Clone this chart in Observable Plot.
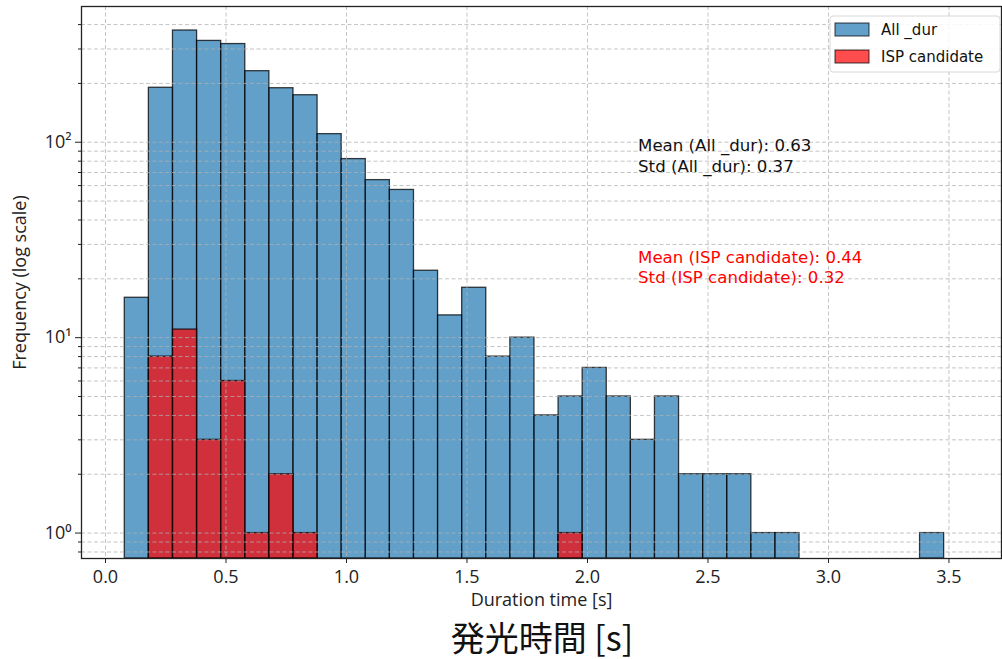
<!DOCTYPE html>
<html><head><meta charset="utf-8">
<script src="https://cdn.jsdelivr.net/npm/d3@7"></script>
<script src="https://cdn.jsdelivr.net/npm/@observablehq/plot@0.6"></script>
<style>
body{margin:0;background:#fff;}
#chart svg{display:block;}
#caption{box-sizing:border-box;width:1002px;height:44px;line-height:44px;padding-left:82px;text-align:center;font-family:"Noto Sans CJK JP";font-size:34px;color:#111;}
</style>
</head><body>
<div id="chart"></div>
<div id="caption">発光時間 [s]</div>
<script>
// Histogram bin edges (s)
const binEdges = [0.08,0.18,0.28,0.38,0.48,0.58,0.68,0.78,0.88,0.98,1.08,1.18,1.28,1.38,1.48,1.58,1.68,1.78,1.88,1.98,2.08,2.18,2.28,2.38,2.48,2.58,2.68,2.78,2.88,2.98,3.08,3.18,3.28,3.38,3.48];
// Counts per bin
const allDurCounts = [16,190,373,330,318,231,189,174,110,82,64,57,22,13,18,8,10,4,5,7,5,3,5,2,2,2,1,1,0,0,0,0,0,1];
const ispCounts    = [0,8,11,3,6,1,2,1,0,0,0,0,0,0,0,0,0,0,1,0,0,0,0,0,0,0,0,0,0,0,0,0,0,0];
const seriesNames = ["All _dur","ISP candidate"];
const xTickValues = [0,0.5,1,1.5,2,2.5,3,3.5];
const xTickLabels = ["0.0","0.5","1.0","1.5","2.0","2.5","3.0","3.5"];
const yTickValues = [1,10,100];
const yTickLabels = ["10⁰","10¹","10²"];
const yMinorTicks = [0.8,0.9,2,3,4,5,6,7,8,9,20,30,40,50,60,70,80,90,200,300,400];
const statsAll = ["Mean (All _dur): 0.63","Std (All _dur): 0.37"];
const statsIsp = ["Mean (ISP candidate): 0.44","Std (ISP candidate): 0.32"];

const xDomain = [-0.0996, 3.718];
const yDomain = [0.741, 495];

const toRows = counts => counts.map((c,i)=>({x1:binEdges[i], x2:binEdges[i+1], y:c})).filter(d=>d.y>0);
const allRows = toRows(allDurCounts);
const ispRows = toRows(ispCounts);

const gridStyle = {stroke:"#b0b0b0", strokeOpacity:0.75, strokeDasharray:"4,2.5", strokeWidth:1};

const plot = Plot.plot({
  width: 1002, height: 615,
  marginLeft: 81, marginRight: 1, marginTop: 6, marginBottom: 57,
  style: {fontFamily:"Open Sans", fontSize:"17px", color:"#222", background:"#fff"},
  x: {domain: xDomain},
  y: {type:"log", domain: yDomain},
  marks: [
    Plot.rectY(allRows, {x1:"x1", x2:"x2", y1: yDomain[0], y2:"y", fill:"#1f77b4", fillOpacity:0.7, stroke:"#000", strokeOpacity:0.75, strokeWidth:1.3}),
    Plot.rectY(ispRows, {x1:"x1", x2:"x2", y1: yDomain[0], y2:"y", fill:"red", fillOpacity:0.7, stroke:"#000", strokeOpacity:0.75, strokeWidth:1.3}),
    Plot.gridX(xTickValues, gridStyle),
    Plot.gridY(yTickValues.concat(yMinorTicks), gridStyle),
    Plot.axisX({ticks:xTickValues, tickFormat:d=>xTickLabels[xTickValues.indexOf(d)], tickSize:5, tickPadding:7, fontSize:18,
      label:"Duration time [s]", labelAnchor:"center", labelOffset:47, labelArrow:"none"}),
    Plot.axisY({ticks:yTickValues, tickFormat:d=>yTickLabels[yTickValues.indexOf(d)], tickSize:6, tickPadding:4, fontSize:18,
      label:"Frequency (log scale)", labelAnchor:"center", labelOffset:68, labelArrow:"none"}),
    Plot.axisY({ticks:yMinorTicks, tickFormat:()=>"", tickSize:3, label:null}),
    Plot.text([statsAll.join("\n")], {x:2.21, y:86, text:d=>d, textAnchor:"start", lineAnchor:"middle", lineHeight:1.27, fill:"#111", fontSize:16.6, fontFamily:"DejaVu Sans"}),
    Plot.text([statsIsp.join("\n")], {x:2.21, y:23.1, text:d=>d, textAnchor:"start", lineAnchor:"middle", lineHeight:1.2, fill:"red", fontSize:16.6, fontFamily:"DejaVu Sans"}),
    Plot.frame({stroke:"#222", strokeWidth:1.3})
  ]
});
document.getElementById("chart").appendChild(plot);

// Legend box (matplotlib-style)
const svg = d3.select(plot);
const lg = svg.append("g").attr("font-family","DejaVu Sans").attr("font-size",15).attr("text-anchor","start");
lg.append("rect").attr("x",830).attr("y",16).attr("width",170).attr("height",56).attr("rx",3)
  .attr("fill","#fff").attr("fill-opacity",0.85).attr("stroke","#d8d8d8");
const legendFills = [["#1f77b4",0.7],["red",0.7]];
seriesNames.forEach((name,i)=>{
  const y0 = 23 + i*27;
  lg.append("rect").attr("x",835).attr("y",y0).attr("width",34).attr("height",13)
    .attr("fill",legendFills[i][0]).attr("fill-opacity",legendFills[i][1]).attr("stroke","#000").attr("stroke-opacity",0.75);
  lg.append("text").attr("x",881).attr("y",y0+6.5).attr("dy","0.35em").attr("text-anchor","start").attr("fill","#111").text(name);
});
</script>
</body></html>
